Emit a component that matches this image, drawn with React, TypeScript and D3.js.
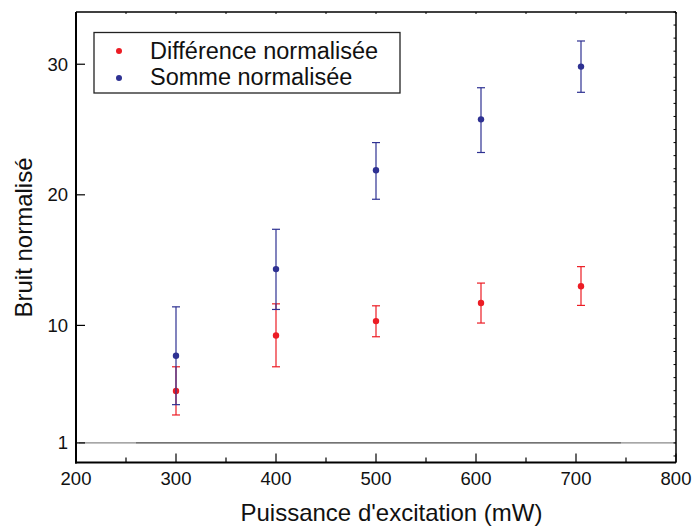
import React from "react";
import * as d3 from "d3";

const powers = [300, 400, 500, 605, 705];
const diffValues = [4.97, 9.23, 10.33, 11.71, 13.0];
const diffLow = [3.14, 6.83, 9.13, 10.18, 11.53];
const diffHigh = [6.83, 11.65, 11.5, 13.24, 14.5];
const sumValues = [7.67, 14.31, 21.88, 25.78, 29.82];
const sumLow = [3.93, 11.22, 19.66, 23.24, 27.85];
const sumHigh = [11.42, 17.36, 24.0, 28.2, 31.78];
const xTicks = [200, 300, 400, 500, 600, 700, 800];
const yTicks = [1, 10, 20, 30];
const legendLabels = ["Différence normalisée", "Somme normalisée"];
const RED = "#ec1c24";
const BLUE = "#2e3192";

export default function App() {
  const W = 693, H = 527;
  const L = 76, R = 676, T = 12, B = 462.5;
  const x = d3.scaleLinear().domain([200, 800]).range([L, R]);
  const y = d3.scaleLinear().domain([-0.5, 34]).range([B, T]);
  const font = "'Liberation Sans', Arial, sans-serif";
  const minorX = d3.range(200, 801, 50);
  const minorY = d3.range(0, 35, 1);

  const series = [
    { v: diffValues, lo: diffLow, hi: diffHigh, c: RED },
    { v: sumValues, lo: sumLow, hi: sumHigh, c: BLUE },
  ];

  return (
    <svg width={W} height={H} style={{ position: "absolute", left: 0, top: 0 }} fontFamily={font}>
      <rect width={W} height={H} fill="white" />
      {/* reference line at 1 */}
      <line x1={x(203)} x2={x(260)} y1={y(1)} y2={y(1)} stroke="#8a8a8a" strokeWidth={1.3} />
      <line x1={x(260)} x2={x(745)} y1={y(1)} y2={y(1)} stroke="#444" strokeWidth={1.3} />
      <line x1={x(745)} x2={x(800)} y1={y(1)} y2={y(1)} stroke="#8a8a8a" strokeWidth={1.3} />

      {/* error bars and points */}
      {series.map((s, si) => (
        <g key={si}>
          {powers.map((p, i) => (
            <g key={i} stroke={s.c} strokeWidth={1.2}>
              <line x1={x(p)} x2={x(p)} y1={y(s.lo[i])} y2={y(s.hi[i])} />
              <line x1={x(p) - 4} x2={x(p) + 4} y1={y(s.lo[i])} y2={y(s.lo[i])} />
              <line x1={x(p) - 4} x2={x(p) + 4} y1={y(s.hi[i])} y2={y(s.hi[i])} />
            </g>
          ))}
          {powers.map((p, i) => (
            <circle key={"c" + i} cx={x(p)} cy={y(s.v[i])} r={3.2} fill={s.c} />
          ))}
        </g>
      ))}

      {/* frame */}
      <line x1={L} x2={R} y1={T} y2={T} stroke="#000" strokeWidth={1.5} />
      <line x1={R} x2={R} y1={T} y2={B} stroke="#000" strokeWidth={1.5} />
      <line x1={L} x2={L} y1={T} y2={B + 1} stroke="#000" strokeWidth={2} />
      <line x1={L - 1} x2={R} y1={B} y2={B} stroke="#000" strokeWidth={2} />

      {/* bottom ticks */}
      {minorX.map((v) => (
        <line key={"bx" + v} x1={x(v)} x2={x(v)} y1={B} y2={B - (v % 100 === 0 ? 9 : 5)} stroke="#000" strokeWidth={1.2} />
      ))}
      {/* top ticks */}
      {minorX.map((v) => (
        <line key={"tx" + v} x1={x(v)} x2={x(v)} y1={T} y2={T + 2} stroke="#000" strokeWidth={1} />
      ))}
      {xTicks.map((v) => (
        <text key={"xl" + v} x={x(v)} y={485} textAnchor="middle" fontSize={18.5} fill="#111">{v}</text>
      ))}

      {/* left ticks */}
      {yTicks.map((v) => (
        <g key={"yl" + v}>
          <line x1={L} x2={L + 9} y1={y(v)} y2={y(v)} stroke="#000" strokeWidth={1.2} />
          <text x={L - 8} y={y(v)} dy="0.35em" textAnchor="end" fontSize={18.5} fill="#111">{v}</text>
        </g>
      ))}
      {/* right minor ticks */}
      {minorY.map((v) => (
        <line key={"ry" + v} x1={R} x2={R - 2.5} y1={y(v)} y2={y(v)} stroke="#000" strokeWidth={1} />
      ))}

      {/* axis titles */}
      <text x={391.5} y={521} textAnchor="middle" fontSize={24} fill="#111">Puissance d'excitation (mW)</text>
      <text transform={`translate(32,237.5) rotate(-90)`} textAnchor="middle" fontSize={24} fill="#111">Bruit normalisé</text>

      {/* legend */}
      <rect x={94} y={32.5} width={306} height={60.5} fill="white" stroke="#222" strokeWidth={1.3} />
      {legendLabels.map((lab, i) => (
        <g key={lab}>
          <circle cx={119} cy={51 + i * 27} r={3} fill={i === 0 ? RED : BLUE} />
          <text x={150} y={59 + i * 26} fontSize={23.5} fill="#111">{lab}</text>
        </g>
      ))}
    </svg>
  );
}
